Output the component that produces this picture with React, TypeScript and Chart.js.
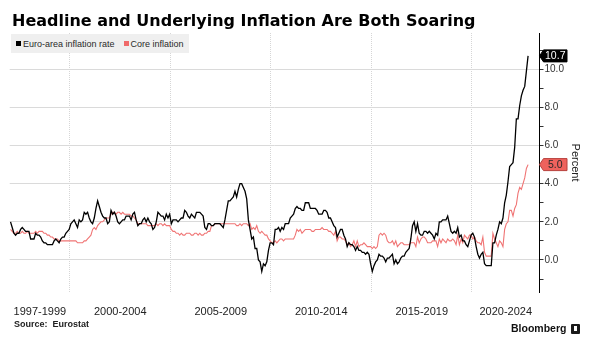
import React, { useEffect, useLayoutEffect, useRef } from 'react';
import { Chart, registerables } from 'chart.js';

Chart.register(...registerables);

// ---------- data (monthly, Jan 1997 .. Oct 2022) ----------
const START_YEAR = 1997;

const headline = [
  // 1997
  2.0, 1.7, 1.4, 1.3, 1.4, 1.4, 1.6, 1.7, 1.6, 1.5, 1.5, 1.5,
  // 1998
  1.1, 1.1, 1.1, 1.4, 1.3, 1.3, 1.2, 1.0, 0.9, 0.9, 0.8, 0.8,
  // 1999
  0.8, 0.8, 1.0, 1.1, 1.0, 0.9, 1.1, 1.2, 1.2, 1.4, 1.5, 1.6,
  // 2000
  1.9, 2.0, 2.1, 1.9, 1.7, 2.1, 2.0, 2.1, 2.5, 2.4, 2.5, 2.2,
  // 2001
  2.0, 1.9, 2.2, 2.7, 3.1, 2.8, 2.5, 2.3, 2.2, 2.2, 1.9, 2.0,
  // 2002
  2.6, 2.4, 2.5, 2.3, 2.0, 1.9, 2.0, 2.1, 2.1, 2.3, 2.3, 2.3,
  // 2003
  2.1, 2.4, 2.5, 2.1, 1.8, 1.9, 1.9, 2.1, 2.2, 2.0, 2.2, 2.0,
  // 2004
  1.9, 1.6, 1.7, 2.0, 2.5, 2.4, 2.3, 2.3, 2.1, 2.4, 2.2, 2.4,
  // 2005
  1.9, 2.1, 2.1, 2.1, 2.0, 2.1, 2.2, 2.2, 2.6, 2.5, 2.3, 2.2,
  // 2006
  2.4, 2.3, 2.2, 2.5, 2.5, 2.5, 2.4, 2.3, 1.7, 1.6, 1.9, 1.9,
  // 2007
  1.8, 1.8, 1.9, 1.9, 1.9, 1.9, 1.8, 1.7, 2.1, 2.6, 3.1, 3.1,
  // 2008
  3.2, 3.3, 3.6, 3.3, 3.7, 4.0, 4.0, 3.8, 3.6, 3.2, 2.1, 1.6,
  // 2009
  1.1, 1.2, 0.6, 0.6, 0.0, -0.1, -0.6, -0.2, -0.3, -0.1, 0.5, 0.9,
  // 2010
  0.9, 0.8, 1.6, 1.6, 1.7, 1.5, 1.7, 1.6, 1.9, 1.9, 1.9, 2.2,
  // 2011
  2.3, 2.4, 2.7, 2.8, 2.7, 2.7, 2.6, 2.6, 3.0, 3.0, 3.0, 2.7,
  // 2012
  2.7, 2.7, 2.7, 2.6, 2.4, 2.4, 2.4, 2.6, 2.6, 2.5, 2.2, 2.2,
  // 2013
  2.0, 1.8, 1.7, 1.2, 1.4, 1.6, 1.6, 1.3, 1.1, 0.7, 0.9, 0.8,
  // 2014
  0.8, 0.7, 0.5, 0.7, 0.5, 0.5, 0.4, 0.4, 0.3, 0.4, 0.3, -0.2,
  // 2015
  -0.6, -0.3, -0.1, 0.0, 0.3, 0.2, 0.2, 0.1, -0.1, 0.1, 0.1, 0.2,
  // 2016
  0.3, -0.2, 0.0, -0.2, -0.1, 0.1, 0.2, 0.2, 0.4, 0.5, 0.6, 1.1,
  // 2017
  1.8, 2.0, 1.5, 1.9, 1.4, 1.3, 1.3, 1.5, 1.5, 1.4, 1.5, 1.4,
  // 2018
  1.3, 1.1, 1.4, 1.3, 2.0, 2.0, 2.1, 2.1, 2.1, 2.3, 1.9, 1.5,
  // 2019
  1.4, 1.5, 1.4, 1.7, 1.2, 1.3, 1.0, 1.0, 0.8, 0.7, 1.0, 1.3,
  // 2020
  1.4, 1.2, 0.7, 0.3, 0.1, 0.3, 0.4, -0.2, -0.3, -0.3, -0.3, -0.3,
  // 2021
  0.9, 0.9, 1.3, 1.6, 2.0, 1.9, 2.2, 3.0, 3.4, 4.1, 4.9, 5.0,
  // 2022
  5.1, 5.9, 7.4, 7.4, 8.1, 8.6, 8.9, 9.1, 9.9, 10.7,
];

const core = [
  // 1997
  1.6, 1.5, 1.4, 1.4, 1.5, 1.4, 1.4, 1.5, 1.4, 1.4, 1.5, 1.4,
  // 1998
  1.4, 1.4, 1.4, 1.5, 1.4, 1.5, 1.5, 1.5, 1.4, 1.4, 1.3, 1.3,
  // 1999
  1.2, 1.2, 1.1, 1.1, 1.1, 1.0, 1.0, 1.0, 1.0, 1.0, 1.0, 1.0,
  // 2000
  1.0, 1.0, 1.0, 1.0, 0.9, 0.9, 0.9, 0.9, 1.0, 1.0, 1.1, 1.2,
  // 2001
  1.3, 1.6, 1.7, 1.6, 1.8, 1.9, 2.0, 2.0, 2.1, 2.2, 2.2, 2.2,
  // 2002
  2.4, 2.5, 2.5, 2.4, 2.5, 2.5, 2.4, 2.5, 2.4, 2.4, 2.4, 2.4,
  // 2003
  2.3, 2.3, 2.2, 2.1, 1.9, 1.9, 1.9, 1.9, 1.9, 1.9, 1.8, 1.8,
  // 2004
  1.8, 1.8, 1.8, 1.9, 1.8, 1.9, 1.9, 1.8, 1.9, 1.8, 1.8, 1.8,
  // 2005
  1.6, 1.5, 1.5, 1.4, 1.4, 1.3, 1.4, 1.3, 1.3, 1.4, 1.4, 1.4,
  // 2006
  1.3, 1.3, 1.4, 1.4, 1.3, 1.4, 1.3, 1.3, 1.4, 1.4, 1.5, 1.5,
  // 2007
  1.8, 1.8, 1.9, 1.9, 1.9, 1.9, 1.9, 1.9, 1.9, 1.9, 1.9, 1.9,
  // 2008
  1.9, 1.9, 1.9, 1.8, 1.8, 1.9, 1.8, 1.9, 1.9, 1.9, 1.8, 1.9,
  // 2009
  1.6, 1.7, 1.6, 1.8, 1.5, 1.4, 1.5, 1.4, 1.3, 1.3, 1.1, 1.0,
  // 2010
  0.9, 0.9, 1.0, 0.9, 1.0, 1.1, 1.1, 1.0, 1.1, 1.1, 1.1, 1.1,
  // 2011
  1.1, 1.1, 1.3, 1.6, 1.5, 1.6, 1.4, 1.5, 1.6, 1.6, 1.6, 1.6,
  // 2012
  1.5, 1.5, 1.6, 1.6, 1.6, 1.6, 1.7, 1.6, 1.6, 1.6, 1.5, 1.5,
  // 2013
  1.4, 1.3, 1.5, 1.0, 1.2, 1.2, 1.1, 1.1, 1.0, 0.8, 0.9, 0.7,
  // 2014
  0.8, 1.0, 0.7, 1.0, 0.7, 0.8, 0.8, 0.9, 0.8, 0.7, 0.7, 0.7,
  // 2015
  0.6, 0.7, 0.6, 0.7, 1.3, 1.4, 1.3, 1.4, 1.3, 1.0, 0.9, 0.9,
  // 2016
  1.0, 0.8, 1.0, 0.7, 0.8, 0.9, 0.9, 0.8, 0.8, 0.8, 0.8, 0.9,
  // 2017
  0.9, 0.9, 0.7, 1.2, 0.9, 1.1, 1.2, 1.2, 1.1, 0.9, 0.9, 0.9,
  // 2018
  1.0, 1.0, 1.0, 0.7, 1.1, 0.9, 1.1, 1.0, 0.9, 1.1, 1.0, 1.0,
  // 2019
  1.1, 1.0, 0.8, 1.3, 0.8, 1.1, 0.9, 1.3, 1.2, 1.1, 1.3, 1.3,
  // 2020
  1.1, 1.2, 1.0, 0.9, 0.9, 0.8, 1.2, 0.4, 0.2, 0.2, 0.2, 0.2,
  // 2021
  1.4, 1.1, 0.9, 0.7, 1.0, 0.9, 0.7, 1.6, 1.9, 2.0, 2.6, 2.6,
  // 2022
  2.3, 2.7, 2.9, 3.5, 3.8, 3.7, 4.0, 4.3, 4.8, 5.0,
];

const periodLabels = ['1997-1999', '2000-2004', '2005-2009', '2010-2014', '2015-2019', '2020-2024'];
const periodStarts = [1997, 2000, 2005, 2010, 2015, 2020];
const gridYears = [2000, 2005, 2010, 2015, 2020];
const X_MIN = 1997;
const X_MAX = 2023.36;
const Y_MIN = -1.68;
const Y_MAX = 11.9;

const seriesNames = ['Euro-area inflation rate', 'Core inflation'];
const seriesColors = ['#000000', '#f07474'];
const tagFill = ['#000000', '#ee625d'];
const tagText = ['#ffffff', '#2a2a2a'];
const tagStroke = ['#000000', '#b8403c'];

const toPoints = (arr: number[]) =>
  arr.map((v, i) => ({ x: START_YEAR + (i + 0.5) / 12, y: v }));

const periodMids = periodStarts.map((s, i) => {
  const e = i + 1 < periodStarts.length ? periodStarts[i + 1] : X_MAX;
  return (s + e) / 2;
});

const FONT = '"Liberation Sans", Arial, sans-serif';

const tagPlugin = {
  id: 'lastValueTags',
  afterDraw(chart: any) {
    const { ctx, chartArea } = chart;
    const yScale = chart.scales.y;
    chart.data.datasets.forEach((ds: any, i: number) => {
      const last = ds.data[ds.data.length - 1];
      const y = yScale.getPixelForValue(last.y);
      const tip = chartArea.right;
      const bx = tip + 4;
      const bw = 23.5;
      const h = 12;
      ctx.save();
      ctx.beginPath();
      ctx.moveTo(tip, y);
      ctx.lineTo(bx, y - h / 2);
      ctx.lineTo(bx + bw, y - h / 2);
      ctx.lineTo(bx + bw, y + h / 2);
      ctx.lineTo(bx, y + h / 2);
      ctx.closePath();
      ctx.fillStyle = tagFill[i];
      ctx.fill();
      ctx.lineWidth = 1;
      ctx.strokeStyle = tagStroke[i];
      ctx.stroke();
      ctx.fillStyle = tagText[i];
      ctx.font = `10.5px ${FONT}`;
      ctx.textAlign = 'center';
      ctx.textBaseline = 'middle';
      ctx.fillText(last.y.toFixed(1), bx + bw / 2, y + 0.5);
      ctx.restore();
    });
  },
};

function ChartCanvas() {
  const ref = useRef<HTMLCanvasElement | null>(null);
  useEffect(() => {
    if (!ref.current) return;
    const chart = new Chart(ref.current, {
      type: 'line',
      data: {
        datasets: [
          {
            label: seriesNames[0],
            data: toPoints(headline),
            borderColor: seriesColors[0],
            borderWidth: 1.3,
            pointRadius: 0,
            tension: 0,
          },
          {
            label: seriesNames[1],
            data: toPoints(core),
            borderColor: seriesColors[1],
            borderWidth: 1.1,
            pointRadius: 0,
            tension: 0,
          },
        ],
      },
      options: {
        animation: false,
        responsive: false,
        maintainAspectRatio: false,
        events: [],
        layout: { padding: { left: 9.7, right: 15, top: 33, bottom: 19 } },
        plugins: { legend: { display: false }, tooltip: { enabled: false } },
        scales: {
          x: {
            type: 'linear',
            position: 'bottom',
            min: X_MIN,
            max: X_MAX,
            afterBuildTicks: (s: any) => {
              s.ticks = gridYears.map((v) => ({ value: v }));
            },
            afterFit: (s: any) => {
              s.height = 0;
            },
            grid: { color: '#d6d6d6', lineWidth: 1, drawTicks: false },
            border: { display: false, dash: [1, 1] },
            ticks: { display: false },
          },
          xl: {
            type: 'linear',
            position: 'bottom',
            min: X_MIN,
            max: X_MAX,
            afterBuildTicks: (s: any) => {
              s.ticks = periodMids.map((v) => ({ value: v }));
            },
            afterFit: (s: any) => {
              s.height = 30;
            },
            grid: { display: false },
            border: { display: false },
            ticks: {
              autoSkip: false,
              maxRotation: 0,
              padding: 5,
              color: '#222222',
              font: { family: FONT, size: 11 },
              callback: (_v: any, i: number) => periodLabels[i],
            },
          },
          y: {
            position: 'right',
            min: Y_MIN,
            max: Y_MAX,
            afterFit: (s: any) => {
              s.width = 42.5;
            },
            grid: {
              color: (c: any) =>
                c.tick && Math.abs(c.tick.value % 2) === 0 ? '#dadada' : 'rgba(0,0,0,0)',
              tickColor: '#333333',
              tickLength: 4,
              drawOnChartArea: true,
            },
            border: { display: true, color: '#000000', width: 1 },
            ticks: {
              stepSize: 1,
              includeBounds: false,
              padding: 1,
              color: '#333333',
              font: { family: FONT, size: 10 },
              callback: (v: any) => {
                const n = Number(v);
                return Number.isInteger(n) && n % 2 === 0 && n >= 0 && n <= 10 ? n.toFixed(1) : '';
              },
            },
            title: {
              display: true,
              text: 'Percent',
              color: '#222222',
              font: { family: FONT, size: 11 },
              padding: { top: 0, bottom: 0 },
            },
          },
        },
      },
      plugins: [tagPlugin],
    } as any);
    return () => chart.destroy();
  }, []);
  return <canvas ref={ref} width={597} height={341} style={{ display: 'block', position: 'absolute', left: 0, top: 0 }} />;
}

export default function App() {
  const titleRef = useRef<HTMLDivElement | null>(null);
  useLayoutEffect(() => {
    const el = titleRef.current;
    if (!el) return;
    const w = el.scrollWidth;
    if (w > 0) el.style.transform = `scaleX(${463 / w})`;
  }, []);
  return (
    <div
      style={{
        position: 'fixed',
        left: 0,
        top: 0,
        width: 597,
        height: 341,
        background: '#ffffff',
        overflow: 'hidden',
      }}
    >
      <ChartCanvas />
      <div
        ref={titleRef}
        style={{
          position: 'absolute',
          left: 12,
          top: 11,
          whiteSpace: 'nowrap',
          display: 'inline-block',
          transformOrigin: 'left top',
          font: 'bold 16.5px "DejaVu Sans", Verdana, sans-serif',
          color: '#000000',
        }}
      >
        Headline and Underlying Inflation Are Both Soaring
      </div>
      <div
        style={{
          position: 'absolute',
          left: 11,
          top: 34,
          width: 178,
          height: 19,
          background: '#efefef',
          display: 'flex',
          alignItems: 'center',
          font: `9px ${FONT}`,
          color: '#2a2a2a',
          whiteSpace: 'nowrap',
        }}
      >
        <span style={{ display: 'inline-block', width: 5, height: 5, background: seriesColors[0], marginLeft: 5, marginRight: 2 }} />
        <span>{seriesNames[0]}</span>
        <span style={{ display: 'inline-block', width: 5, height: 5, background: '#f06a6a', marginLeft: 9, marginRight: 2 }} />
        <span>{seriesNames[1]}</span>
      </div>
      <div
        style={{
          position: 'absolute',
          left: 14,
          top: 319,
          font: `bold 9px ${FONT}`,
          color: '#222222',
          whiteSpace: 'pre',
        }}
      >
        {'Source:  Eurostat'}
      </div>
      <div
        style={{
          position: 'absolute',
          left: 511,
          top: 322,
          font: `bold 10.5px ${FONT}`,
          color: '#111111',
          whiteSpace: 'nowrap',
        }}
      >
        Bloomberg
      </div>
      <div
        style={{
          position: 'absolute',
          left: 571,
          top: 324,
          width: 9,
          height: 10,
          background: '#1a1a1a',
          borderRadius: 1,
        }}
      >
        <div style={{ position: 'absolute', left: 3, top: 2, width: 3, height: 5, background: '#ffffff' }} />
      </div>
    </div>
  );
}
